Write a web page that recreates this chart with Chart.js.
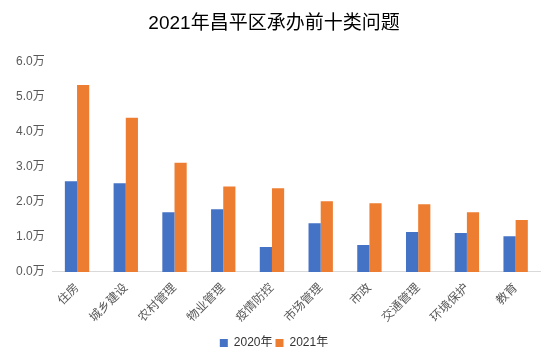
<!DOCTYPE html>
<html>
<head>
<meta charset="utf-8">
<script src="https://cdn.jsdelivr.net/npm/chart.js@4"></script>
<style>
  html, body { margin: 0; padding: 0; background: #fff; }
  #wrap { width: 554px; height: 359px; }
</style>
</head>
<body>
<div id="wrap"><canvas id="chart" width="554" height="359"></canvas></div>
<script>
// 类别和数据（单位：万）
var categories = ['住房', '城乡建设', '农村管理', '物业管理', '疫情防控', '市场管理', '市政', '交通管理', '环境保护', '教育'];
var values2020 = [2.59, 2.53, 1.70, 1.79, 0.71, 1.39, 0.77, 1.14, 1.11, 1.02];
var values2021 = [5.34, 4.40, 3.12, 2.44, 2.39, 2.02, 1.96, 1.93, 1.70, 1.48];
var seriesNames = ['2020年', '2021年'];
var yTicks = [0, 1, 2, 3, 4, 5, 6];

var fontFamily = "'Liberation Sans', Arial, 'Noto Sans CJK SC', sans-serif";

var ctx = document.getElementById('chart').getContext('2d');
var chart = new Chart(ctx, {
  type: 'bar',
  data: {
    labels: categories,
    datasets: [
      { label: seriesNames[0], data: values2020, backgroundColor: '#4472C4' },
      { label: seriesNames[1], data: values2021, backgroundColor: '#ED7D31' }
    ]
  },
  options: {
    responsive: false,
    animation: false,
    layout: { padding: { left: 8, right: 14, top: 8, bottom: 0 } },
    datasets: { bar: { categoryPercentage: 0.5, barPercentage: 1.0 } },
    plugins: {
      title: {
        display: true,
        text: '2021年昌平区承办前十类问题',
        color: '#000',
        font: { family: fontFamily, size: 19, weight: 'normal' },
        padding: { top: 4, bottom: 27 }
      },
      legend: {
        position: 'bottom',
        labels: {
          boxWidth: 8, boxHeight: 8,
          color: '#333',
          font: { family: fontFamily, size: 12 },
          padding: 3
        }
      },
      tooltip: { enabled: false }
    },
    scales: {
      x: {
        grid: { display: false, drawTicks: false },
        border: { color: '#d9d9d9', width: 1 },
        ticks: {
          color: '#595959',
          font: { family: fontFamily, size: 12 },
          minRotation: 45, maxRotation: 45,
          padding: 9
        }
      },
      y: {
        min: 0, max: 6,
        afterBuildTicks: function (axis) {
          axis.ticks = yTicks.map(function (v) { return { value: v }; });
        },
        grid: { display: false, drawTicks: false },
        border: { display: false },
        ticks: {
          color: '#595959',
          font: { family: fontFamily, size: 12 },
          padding: 8,
          callback: function (v) { return v.toFixed(1) + '万'; }
        }
      }
    }
  }
});
</script>
</body>
</html>
